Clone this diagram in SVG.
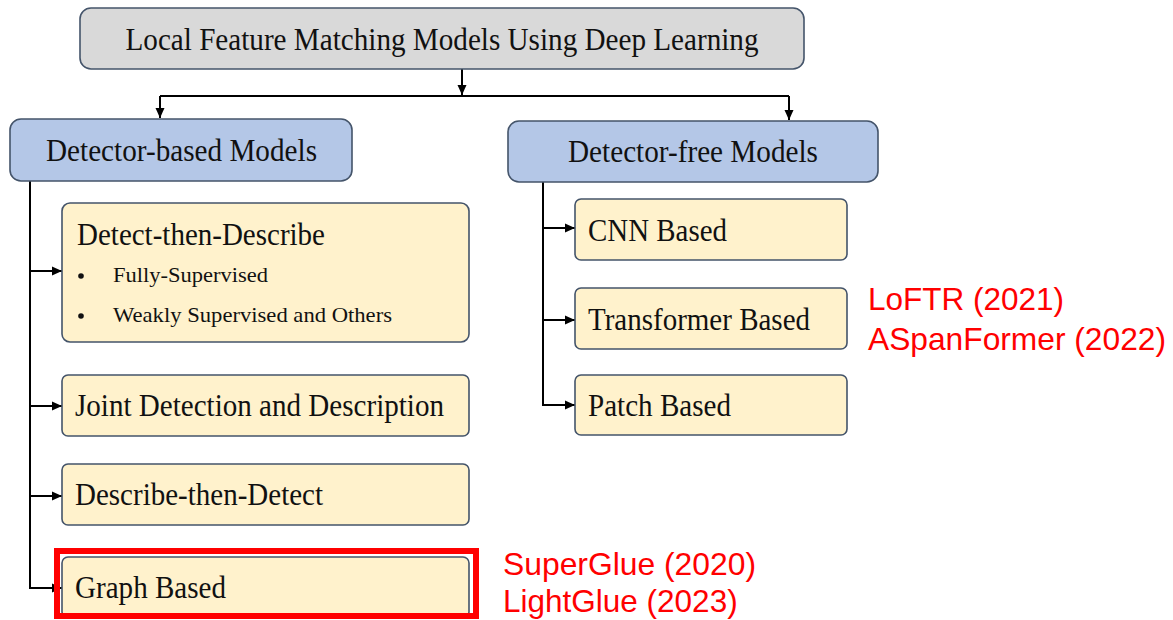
<svg xmlns="http://www.w3.org/2000/svg" width="1173" height="620" viewBox="0 0 1173 620">
<style>
.box{stroke:#44546a;stroke-width:1.6}
.gray{fill:#d9d9d9}
.blue{fill:#b4c7e7}
.yel{fill:#fff2cc}
.t{font-family:"Liberation Serif","Times New Roman",serif;fill:#111;font-size:31px}
.s{font-family:"Liberation Serif","Times New Roman",serif;fill:#111;font-size:22px}
.r{font-family:"Liberation Sans",Arial,sans-serif;fill:#ff0000;font-size:31.5px}
.c{fill:none;stroke:#000;stroke-width:2}
</style>
<defs>
<marker id="ah" viewBox="0 0 10 10" refX="10" refY="5" markerWidth="5" markerHeight="5" orient="auto" markerUnits="strokeWidth">
<path d="M0,0.5 L10,5 L0,9.5 z" fill="#000"/>
</marker>
</defs>
<rect width="1173" height="620" fill="#fff"/>
<g id="connectors">
<path class="c" d="M462,69 V95" marker-end="url(#ah)"/>
<path class="c" d="M160,96 H789"/>
<path class="c" d="M160,96 V118" marker-end="url(#ah)"/>
<path class="c" d="M789,96 V120" marker-end="url(#ah)"/>
<path class="c" d="M30,181 V588 H62" marker-end="url(#ah)"/>
<path class="c" d="M30,271 H62" marker-end="url(#ah)"/>
<path class="c" d="M30,406 H62" marker-end="url(#ah)"/>
<path class="c" d="M30,496 H62" marker-end="url(#ah)"/>
<path class="c" d="M543,182 V405 H575" marker-end="url(#ah)"/>
<path class="c" d="M543,228 H575" marker-end="url(#ah)"/>
<path class="c" d="M543,320 H575" marker-end="url(#ah)"/>
</g>
<g id="root">
<rect class="box gray" x="80" y="8" width="724" height="61" rx="11"/>
<text class="t" x="442" y="50" text-anchor="middle" textLength="633" lengthAdjust="spacingAndGlyphs">Local Feature Matching Models Using Deep Learning</text>
</g>
<g id="detector-based">
<rect class="box blue" x="10" y="119" width="342" height="62" rx="11"/>
<text class="t" x="46" y="161" textLength="271" lengthAdjust="spacingAndGlyphs">Detector-based Models</text>
</g>
<g id="detector-free">
<rect class="box blue" x="508" y="121" width="370" height="61" rx="11"/>
<text class="t" x="568" y="162" textLength="250" lengthAdjust="spacingAndGlyphs">Detector-free Models</text>
</g>
<g id="detect-then-describe">
<rect class="box yel" x="62" y="203" width="407" height="139" rx="8"/>
<text class="t" x="77" y="245" textLength="248" lengthAdjust="spacingAndGlyphs">Detect-then-Describe</text>
<circle cx="81" cy="276" r="2.8" fill="#111"/>
<text class="s" x="113" y="282" textLength="155" lengthAdjust="spacingAndGlyphs">Fully-Supervised</text>
<circle cx="81" cy="316" r="2.8" fill="#111"/>
<text class="s" x="113" y="322" textLength="279" lengthAdjust="spacingAndGlyphs">Weakly Supervised and Others</text>
</g>
<g id="joint">
<rect class="box yel" x="62" y="375" width="407" height="61" rx="6"/>
<text class="t" x="75" y="416" textLength="369" lengthAdjust="spacingAndGlyphs">Joint Detection and Description</text>
</g>
<g id="describe-then-detect">
<rect class="box yel" x="62" y="464" width="407" height="61" rx="6"/>
<text class="t" x="75" y="505" textLength="248" lengthAdjust="spacingAndGlyphs">Describe-then-Detect</text>
</g>
<g id="graph-based">
<rect class="box yel" x="62" y="557" width="407" height="61" rx="6"/>
<text class="t" x="75" y="598" textLength="151" lengthAdjust="spacingAndGlyphs">Graph Based</text>
<rect x="57" y="551" width="419" height="65" fill="none" stroke="#ff0000" stroke-width="6"/>
</g>
<g id="cnn">
<rect class="box yel" x="575" y="199" width="272" height="61" rx="6"/>
<text class="t" x="588" y="241" textLength="139" lengthAdjust="spacingAndGlyphs">CNN Based</text>
</g>
<g id="transformer">
<rect class="box yel" x="575" y="288" width="272" height="61" rx="6"/>
<text class="t" x="588" y="330" textLength="222" lengthAdjust="spacingAndGlyphs">Transformer Based</text>
</g>
<g id="patch">
<rect class="box yel" x="575" y="375" width="272" height="60" rx="6"/>
<text class="t" x="588" y="416" textLength="143" lengthAdjust="spacingAndGlyphs">Patch Based</text>
</g>
<g id="annotations">
<text class="r" x="868" y="310">LoFTR (2021)</text>
<text class="r" x="868" y="350" textLength="298" lengthAdjust="spacingAndGlyphs">ASpanFormer (2022)</text>
<text class="r" x="503" y="575" textLength="253" lengthAdjust="spacingAndGlyphs">SuperGlue (2020)</text>
<text class="r" x="503" y="612">LightGlue (2023)</text>
</g>
</svg>
